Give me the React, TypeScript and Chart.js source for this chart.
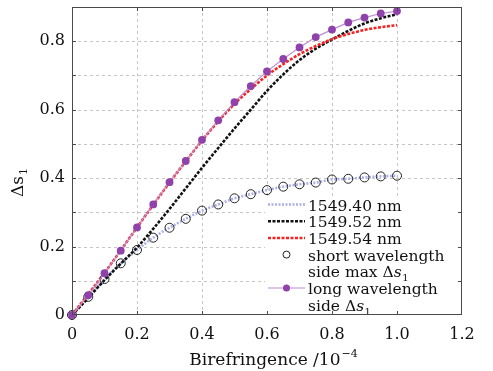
import React, { useEffect, useRef } from 'react';
import { Chart, registerables } from 'chart.js';
Chart.register(...registerables);

const BIREF = [0, 0.05, 0.1, 0.15, 0.2, 0.25, 0.3, 0.35, 0.4, 0.45, 0.5, 0.55, 0.6, 0.65, 0.7, 0.75, 0.8, 0.85, 0.9, 0.95, 1.0];
const L1549_40 = [0, 0.053, 0.105, 0.151, 0.19, 0.226, 0.255, 0.281, 0.305, 0.323, 0.341, 0.353, 0.365, 0.375, 0.382, 0.387, 0.396, 0.398, 0.402, 0.405, 0.407];
const L1549_52 = [0, 0.05, 0.102, 0.15, 0.197, 0.252, 0.31, 0.37, 0.43, 0.488, 0.545, 0.6, 0.655, 0.703, 0.745, 0.778, 0.805, 0.83, 0.852, 0.867, 0.879];
const L1549_54 = [0, 0.061, 0.123, 0.189, 0.256, 0.322, 0.387, 0.449, 0.51, 0.566, 0.617, 0.66, 0.7, 0.733, 0.762, 0.786, 0.806, 0.821, 0.833, 0.841, 0.847];
const SHORT_MAX = [0, 0.053, 0.105, 0.151, 0.19, 0.226, 0.255, 0.281, 0.305, 0.323, 0.341, 0.353, 0.365, 0.375, 0.382, 0.387, 0.396, 0.398, 0.402, 0.405, 0.407];
const LONG_SIDE = [0, 0.058, 0.122, 0.188, 0.256, 0.323, 0.388, 0.45, 0.512, 0.569, 0.622, 0.669, 0.712, 0.748, 0.782, 0.812, 0.834, 0.855, 0.869, 0.881, 0.888];

const X_TICK_LABELS = ['0', '0.2', '0.4', '0.6', '0.8', '1.0', '1.2'];
const Y_TICK_LABELS = ['0', '0.2', '0.4', '0.6', '0.8'];
const X_GRID = [0.2, 0.4, 0.6, 0.8, 1.0];
const Y_GRID = [0.1, 0.2, 0.3, 0.4, 0.5, 0.6, 0.7, 0.8];
const X_TITLE = 'Birefringence /10';
const X_TITLE_SUP = '\u22124';

const C_LAV = 'rgb(172,176,228)';
const C_BLACK = '#111111';
const C_RED = 'rgb(244,36,36)';
const C_PURPLE_LINE = 'rgb(188,140,212)';
const C_PURPLE_PT = 'rgb(142,66,170)';
const SERIF = '"DejaVu Serif", serif';

const pts = (ys: number[]) => BIREF.map((x, i) => ({ x, y: ys[i] }));

const decor = {
  id: 'decor',
  beforeDatasetsDraw(chart: any) {
    const { ctx, chartArea: a, scales } = chart;
    const x = scales.x, y = scales.y;
    ctx.save();
    ctx.strokeStyle = '#c6c6c6';
    ctx.lineWidth = 1;
    ctx.setLineDash([3, 3]);
    for (const v of X_GRID) {
      const px = Math.round(x.getPixelForValue(v)) + 0.5;
      ctx.beginPath(); ctx.moveTo(px, a.top); ctx.lineTo(px, a.bottom); ctx.stroke();
    }
    for (const v of Y_GRID) {
      const py = Math.round(y.getPixelForValue(v)) + 0.5;
      ctx.beginPath(); ctx.moveTo(a.left, py); ctx.lineTo(a.right, py); ctx.stroke();
    }
    ctx.restore();
  },
  afterDatasetsDraw(chart: any) {
    const { ctx, chartArea: a, scales } = chart;
    const x = scales.x, y = scales.y;
    ctx.save();
    // legend box
    const lx = a.left + 193;
    const ly = a.top + 189;
    ctx.fillStyle = '#ffffff';
    ctx.fillRect(lx, ly, a.right - lx, a.bottom - ly);
    const sx0 = a.left + 196, sx1 = a.left + 233, smid = (sx0 + sx1) / 2;
    const tx = a.left + 236;
    const rowY = (i: number) => a.top + 197.5 + i * 16.7; // center
    const font = '15.5px ' + SERIF;
    const ifont = 'italic 15.5px ' + SERIF;
    const sfont = '10px ' + SERIF;
    ctx.textBaseline = 'alphabetic';
    ctx.textAlign = 'left';
    ctx.fillStyle = '#111';
    const text = (s: string, i: number) => {
      ctx.font = font; ctx.fillText(s, tx, rowY(i) + 6);
    };
    const dsText = (prefix: string, i: number) => {
      let cx = tx; const by = rowY(i) + 6;
      ctx.font = font; ctx.fillText(prefix + '\u0394', cx, by); cx += ctx.measureText(prefix + '\u0394').width;
      ctx.font = ifont; ctx.fillText('s', cx, by); cx += ctx.measureText('s').width;
      ctx.font = sfont; ctx.fillText('1', cx + 0.5, by + 4);
    };
    const sample = (color: string, width: number, dash: number[], i: number) => {
      ctx.save();
      ctx.strokeStyle = color; ctx.lineWidth = width; ctx.setLineDash(dash);
      ctx.beginPath(); ctx.moveTo(sx0, rowY(i)); ctx.lineTo(sx1, rowY(i)); ctx.stroke();
      ctx.restore();
    };
    sample(C_LAV, 2.5, [2, 1.5], 0); text('1549.40 nm', 0);
    sample(C_BLACK, 2.5, [3, 1.5], 1); text('1549.52 nm', 1);
    sample(C_RED, 2.5, [3, 1.5], 2); text('1549.54 nm', 2);
    ctx.save();
    ctx.strokeStyle = '#222'; ctx.lineWidth = 1;
    ctx.beginPath(); ctx.arc(smid, rowY(3), 3.5, 0, Math.PI * 2); ctx.stroke();
    ctx.restore();
    text('short wavelength', 3);
    dsText('side max ', 4);
    sample(C_PURPLE_LINE, 1.2, [], 5);
    ctx.fillStyle = C_PURPLE_PT;
    ctx.beginPath(); ctx.arc(smid, rowY(5), 3.5, 0, Math.PI * 2); ctx.fill();
    ctx.fillStyle = '#111';
    text('long wavelength', 5);
    dsText('side ', 6);

    // frame
    ctx.strokeStyle = '#4a4a4a';
    ctx.lineWidth = 1;
    ctx.setLineDash([]);
    ctx.strokeRect(Math.round(a.left) + 0.5, Math.round(a.top) + 0.5, Math.round(a.right - a.left) - 1, Math.round(a.bottom - a.top) - 1);
    // inward ticks
    const tl = 4;
    for (const v of X_GRID) {
      const px = Math.round(x.getPixelForValue(v)) + 0.5;
      ctx.beginPath(); ctx.moveTo(px, a.bottom); ctx.lineTo(px, a.bottom - tl); ctx.stroke();
      ctx.beginPath(); ctx.moveTo(px, a.top); ctx.lineTo(px, a.top + tl); ctx.stroke();
    }
    for (const v of Y_GRID) {
      const py = Math.round(y.getPixelForValue(v)) + 0.5;
      ctx.beginPath(); ctx.moveTo(a.left, py); ctx.lineTo(a.left + tl, py); ctx.stroke();
      ctx.beginPath(); ctx.moveTo(a.right, py); ctx.lineTo(a.right - tl, py); ctx.stroke();
    }
    // x title
    ctx.fillStyle = '#111';
    ctx.font = '17px ' + SERIF;
    const w1 = ctx.measureText(X_TITLE).width;
    ctx.font = '11px ' + SERIF;
    const w2 = ctx.measureText(X_TITLE_SUP).width;
    const cx = (a.left + a.right) / 2 + 6;
    const startX = cx - (w1 + w2) / 2;
    ctx.font = '17px ' + SERIF;
    ctx.fillText(X_TITLE, startX, a.bottom + 50);
    ctx.font = '11px ' + SERIF;
    ctx.fillText(X_TITLE_SUP, startX + w1 + 1, a.bottom + 42);
    // y title (rotated)
    ctx.save();
    ctx.translate(23, 197);
    ctx.rotate(-Math.PI / 2);
    ctx.font = '17px ' + SERIF;
    ctx.fillText('\u0394', 0, 0);
    let yx = ctx.measureText('\u0394').width;
    ctx.fillText('s', yx, 0);
    yx += ctx.measureText('s').width;
    ctx.font = '11px ' + SERIF;
    ctx.fillText('1', yx + 1, 4);
    ctx.restore();
    ctx.restore();
  },
};

export default function App() {
  const ref = useRef<HTMLCanvasElement>(null);
  useEffect(() => {
    const tickFont = { family: SERIF, size: 16 };
    const chart = new Chart(ref.current as HTMLCanvasElement, {
      type: 'line',
      data: {
        datasets: [
          {
            label: 'long wavelength side Δs1', data: pts(LONG_SIDE), order: 0,
            borderColor: C_PURPLE_LINE, borderWidth: 1.2, pointRadius: 3.9,
            pointBackgroundColor: C_PURPLE_PT, pointBorderColor: C_PURPLE_PT, pointBorderWidth: 0,
            tension: 0, clip: false,
          },
          {
            label: 'short wavelength side max Δs1', data: pts(SHORT_MAX), order: 1,
            showLine: false, pointRadius: 4.5, pointBorderColor: '#222', pointBorderWidth: 1,
            pointBackgroundColor: 'rgba(0,0,0,0)', borderColor: '#222', clip: false,
          },
          {
            label: '1549.54 nm', data: pts(L1549_54), order: 2,
            borderColor: C_RED, borderWidth: 2.6, borderDash: [3, 1.5], pointRadius: 0,
            cubicInterpolationMode: 'monotone', clip: false,
          },
          {
            label: '1549.52 nm', data: pts(L1549_52), order: 3,
            borderColor: C_BLACK, borderWidth: 2.6, borderDash: [3, 1.5], pointRadius: 0,
            cubicInterpolationMode: 'monotone', clip: false,
          },
          {
            label: '1549.40 nm', data: pts(L1549_40), order: 4,
            borderColor: C_LAV, borderWidth: 2.6, borderDash: [2, 1.5], pointRadius: 0,
            cubicInterpolationMode: 'monotone', clip: false,
          },
        ],
      },
      options: {
        animation: false,
        responsive: true,
        maintainAspectRatio: false,
        devicePixelRatio: 1,
        layout: { padding: { left: 0, right: 31, top: 7, bottom: 0 } },
        plugins: { legend: { display: false }, tooltip: { enabled: false } },
        scales: {
          x: {
            type: 'linear', min: 0, max: 1.2,
            afterFit: (s: any) => { s.height = 56; s.paddingLeft = 0; s.paddingRight = 0; },
            grid: { display: false, drawTicks: false },
            border: { display: false },
            ticks: {
              stepSize: 0.2, padding: 10, color: '#111', font: tickFont, maxRotation: 0,
              callback: (v: any) => X_TICK_LABELS[Math.round(Number(v) / 0.2)] ?? '',
            },
          },
          y: {
            type: 'linear', min: 0, max: 0.9,
            afterFit: (s: any) => { s.width = 72; s.paddingTop = 0; s.paddingBottom = 0; },
            grid: { display: false, drawTicks: false },
            border: { display: false },
            ticks: {
              stepSize: 0.1, padding: 7, color: '#111', font: tickFont,
              callback: (v: any) => {
                const k = Math.round(Number(v) * 10);
                return k % 2 === 0 ? (Y_TICK_LABELS[k / 2] ?? '') : '';
              },
            },
          },
        },
      },
      plugins: [decor],
    } as any);
    return () => chart.destroy();
  }, []);
  return (
    <div style={{ position: 'absolute', left: 0, top: 0, width: 493, height: 371, background: '#fff' }}>
      <canvas ref={ref} />
    </div>
  );
}
